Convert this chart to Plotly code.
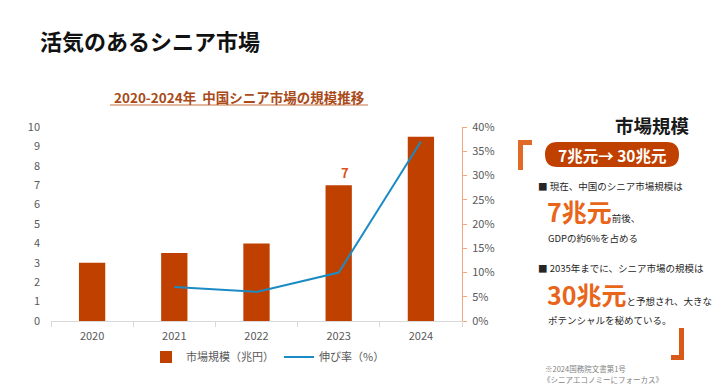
import plotly.graph_objects as go

years = ["2020", "2021", "2022", "2023", "2024"]
market_size = [3.0, 3.5, 4.0, 7.0, 9.5]          # 市場規模（兆円）
growth_rate = [None, 7.0, 6.0, 10.0, 37.0]       # 伸び率（%）
left_ticks = list(range(0, 11))
right_ticks = [0, 5, 10, 15, 20, 25, 30, 35, 40]
right_tick_text = [f"{v}%" for v in right_ticks]
label_year = "2023"

W, H = 716, 385
FONT = "Noto Sans CJK JP"
BAR_C = "#c04000"
LINE_C = "#1b8bc3"
ORANGE = "#e8651a"
GRAY = "#595959"

def px(x):
    return x / W

def py(y):
    return 1 - y / H

fig = go.Figure()
fig.add_trace(go.Bar(x=years, y=market_size, name="市場規模（兆円）",
                     marker=dict(color=BAR_C, line=dict(width=0)),
                     width=0.32, yaxis="y", xaxis="x"))
fig.add_trace(go.Scatter(x=years, y=growth_rate, name="伸び率（%）",
                         mode="lines", line=dict(color=LINE_C, width=2),
                         yaxis="y2", xaxis="x"))

# label above 2023 bar
li = years.index(label_year)
fig.add_annotation(x=li, y=market_size[li], xref="x", yref="y",
                   text=f"<b>{market_size[li]:g}</b>", showarrow=False,
                   yanchor="bottom", yshift=1, xshift=6,
                   font=dict(size=13, color="#d9541a", family=FONT))

x0, x1 = px(51), px(462)
y0, y1 = py(321), py(127)

fig.update_layout(
    width=W, height=H,
    margin=dict(l=0, r=0, t=0, b=0, autoexpand=False),
    paper_bgcolor="white", plot_bgcolor="white",
    font=dict(family=FONT, color=GRAY, size=11),
    xaxis=dict(type="category", categoryorder="array", categoryarray=years,
               range=[-0.5, len(years) - 0.5], autorange=False,
               domain=[x0, x1], showgrid=False, showline=True,
               linecolor="#d9d9d9", linewidth=1, ticks="outside",
               tickson="boundaries", ticklen=5, tickcolor="#d9d9d9",
               tickfont=dict(size=11, color=GRAY), ticklabelstandoff=5,
               automargin=False, tickangle=0),
    yaxis=dict(domain=[y0, y1], range=[0, 10], tickvals=left_ticks,
               showgrid=False, zeroline=False, showline=False,
               tickfont=dict(size=11, color=GRAY), ticklabelstandoff=10,
               automargin=False),
    yaxis2=dict(overlaying="y", side="right", range=[0, 40],
                tickmode="array", tickvals=right_ticks, ticktext=right_tick_text,
                showgrid=False,
                zeroline=False, showline=True, linecolor="#f4a77a",
                linewidth=1, ticks="outside", ticklen=4, tickcolor="#f4a77a",
                tickfont=dict(size=11, color=GRAY), ticklabelstandoff=3,
                automargin=False),
    legend=dict(orientation="h", x=px(268), xanchor="center",
                y=py(357), yanchor="middle", font=dict(size=11, color=GRAY),
                itemwidth=30, bgcolor="rgba(0,0,0,0)"),
)

# Main title
fig.add_annotation(x=px(38), y=py(40), xref="paper", yref="paper",
                   xanchor="left", yanchor="middle", showarrow=False,
                   text="<b>活気のあるシニア市場</b>",
                   font=dict(size=22, color="#111111", family=FONT))
# Chart title with underline
fig.add_annotation(x=px(239), y=py(97), xref="paper", yref="paper",
                   xanchor="center", yanchor="middle", showarrow=False,
                   text="<b>2020-2024年  中国シニア市場の規模推移</b>",
                   font=dict(size=13.5, color="#a94a19", family=FONT))
fig.add_shape(type="line", xref="paper", yref="paper",
              x0=px(110), x1=px(368), y0=py(105), y1=py(105),
              line=dict(color="#c8723e", width=1.2))

# Right panel
fig.add_annotation(x=px(652), y=py(125), xref="paper", yref="paper",
                   xanchor="center", yanchor="middle", showarrow=False,
                   text="<b>市場規模</b>",
                   font=dict(size=18.5, color="#1a1a1a", family=FONT))

# Brackets
def bracket_open(xl, yt, w, h, t):
    return (f"M {px(xl)},{py(yt)} L {px(xl+w)},{py(yt)} L {px(xl+w)},{py(yt+t)} "
            f"L {px(xl+t)},{py(yt+t)} L {px(xl+t)},{py(yt+h)} L {px(xl)},{py(yt+h)} Z")

def bracket_close(xr, yb, w, h, t):
    return (f"M {px(xr)},{py(yb)} L {px(xr-w)},{py(yb)} L {px(xr-w)},{py(yb-t)} "
            f"L {px(xr-t)},{py(yb-t)} L {px(xr-t)},{py(yb-h)} L {px(xr)},{py(yb-h)} Z")

fig.add_shape(type="path", xref="paper", yref="paper",
              path=bracket_open(518, 140, 14, 30, 5),
              fillcolor="#e06a26", line=dict(width=0))
fig.add_shape(type="path", xref="paper", yref="paper",
              path=bracket_close(684, 360, 13, 32, 5),
              fillcolor="#d95a18", line=dict(width=0))

# Pill
def pill(xl, xr, yt, yb):
    r = (yb - yt) / 2
    ym = (yt + yb) / 2
    return (f"M {px(xl+r)},{py(yt)} L {px(xr-r)},{py(yt)} "
            f"Q {px(xr)},{py(yt)} {px(xr)},{py(ym)} "
            f"Q {px(xr)},{py(yb)} {px(xr-r)},{py(yb)} "
            f"L {px(xl+r)},{py(yb)} "
            f"Q {px(xl)},{py(yb)} {px(xl)},{py(ym)} "
            f"Q {px(xl)},{py(yt)} {px(xl+r)},{py(yt)} Z")

fig.add_shape(type="path", xref="paper", yref="paper",
              path=pill(545, 679, 142, 167),
              fillcolor=BAR_C, line=dict(width=0))
fig.add_annotation(x=px(612), y=py(155), xref="paper", yref="paper",
                   xanchor="center", yanchor="middle", showarrow=False,
                   text="<b>7兆元→ 30兆元</b>",
                   font=dict(size=15.5, color="white", family=FONT))

def txt(x, y, s, size=9.5, color="#262626", anchor="left"):
    fig.add_annotation(x=px(x), y=py(y), xref="paper", yref="paper",
                       xanchor=anchor, yanchor="middle", showarrow=False,
                       text=s, font=dict(size=size, color=color, family=FONT))

txt(536, 186, "■ 現在、中国のシニア市場規模は")
txt(545, 211, f"<span style='font-size:25px;color:{ORANGE}'><b>7兆元</b></span>"
              "<span style='font-size:9.5px'>前後、</span>")
txt(546, 238, "GDPの約6%を占める")
txt(536, 268, "■ 2035年までに、シニア市場の規模は")
txt(545, 294, f"<span style='font-size:25px;color:{ORANGE}'><b>30兆元</b></span>"
              "<span style='font-size:9.5px'>と予想され、大きな</span>")
txt(546, 320, "ポテンシャルを秘めている。")
txt(543, 368, "※2024国務院文書第1号", size=7.5, color="#7f7f7f")
txt(541, 379, "《シニアエコノミーにフォーカス》", size=7.5, color="#7f7f7f")

fig.write_html("out.html", config={"displayModeBar": False},
               post_script="document.body.style.margin='0';document.body.style.overflow='hidden';")
